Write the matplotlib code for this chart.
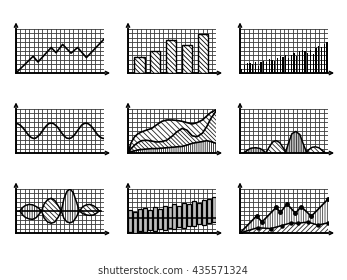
import numpy as np
import matplotlib.pyplot as plt

plt.rcParams['hatch.linewidth'] = 0.6

# panel 1 - zigzag line
line_x = [0, 3.9, 5.0, 8.0, 9.1, 10.6, 12.5, 14.0, 16.0, 20]
line_y = [0, 3.8, 2.5, 5.8, 4.6, 6.5, 4.5, 5.8, 3.5, 7.7]

# panel 2 - hatched bars
bar_x = [2.6, 6.15, 9.8, 13.35, 16.95]
bar_h = [3.7, 5.0, 7.5, 6.3, 8.9]

# panel 3 - thin bars
thin_h = [1.0, 1.8, 2.2, 2.3, 2.1, 2.4, 1.7, 2.6, 2.8, 2.5, 3.2, 2.9, 2.7, 3.5, 3.9, 3.6,
          4.2, 3.3, 4.1, 4.6, 3.8, 4.9, 5.3, 5.0, 4.6, 5.2, 4.3, 5.6, 6.1, 5.8, 6.7, 7.0]

# panel 4 - wave
wave_y = [6.7, 6.6, 6.3, 5.8, 5.2, 4.5, 3.9, 3.5, 3.3, 3.4, 3.8, 4.3, 5.0, 5.7, 6.3, 6.7,
          6.8, 6.7, 6.3, 5.8, 5.1, 4.4, 3.8, 3.4, 3.3, 3.4, 3.8, 4.4, 5.1, 5.8, 6.4, 6.7,
          6.8, 6.6, 6.2, 5.6, 4.9, 4.2, 3.7, 3.4, 3.3]

# panel 5 - stacked areas
area_x = [0, 0.7, 1.5, 2.3, 3.1, 4.2, 5.4, 6.5, 7.7, 8.8, 10.0, 11.1, 12.3, 13.4, 14.6, 15.7, 16.9, 17.9, 18.8, 20]
area_top = [0, 2.3, 3.7, 4.4, 4.8, 5.2, 5.6, 6.4, 7.2, 7.5, 7.5, 7.4, 7.2, 6.9, 6.6, 6.9, 7.5, 8.4, 9.2, 9.8]
area_mid = [0, 1.0, 1.8, 2.4, 2.8, 2.9, 2.7, 2.5, 2.6, 2.9, 3.8, 4.8, 5.6, 5.2, 3.9, 3.7, 4.5, 6.0, 7.8, 9.5]
area_low = [0, 0.3, 0.5, 0.7, 0.8, 0.9, 1.0, 1.0, 1.1, 1.2, 1.3, 1.4, 1.5, 1.8, 2.2, 2.4, 2.6, 2.8, 2.6, 2.2]

# panel 6 - humps
hump_x = [[0.8, 1.6, 2.5, 3.6, 4.6, 5.4, 5.9],
          [5.9, 6.6, 7.4, 8.2, 9.0, 9.8, 10.5],
          [10.3, 11.0, 11.8, 12.7, 13.6, 14.4, 15.2],
          [14.9, 15.7, 16.4, 17.1, 17.9, 18.7, 19.4]]
hump_y = [[0, 0.6, 1.1, 1.2, 1.0, 0.5, 0],
          [0, 1.3, 2.5, 2.8, 2.4, 1.2, 0],
          [0, 2.2, 4.4, 4.9, 4.2, 2.0, 0],
          [0, 0.8, 1.3, 1.4, 1.2, 0.6, 0]]
hump_hatch = ['|||||||', '\\' * 7, '|||||||', '\\' * 7]
hump_face = ['#d0d0d0', 'white', '#c0c0c0', 'white']

# panel 7 - lenses around a base line
lens_x = [[0.9, 1.5, 2.2, 3.0, 3.8, 4.6, 5.2, 5.8],
          [5.8, 6.4, 7.2, 8.0, 8.8, 9.6, 10.3],
          [10.3, 10.9, 11.6, 12.3, 13.0, 13.7, 14.4],
          [14.4, 15.2, 16.0, 16.8, 17.6, 18.3, 18.9]]
lens_up = [[5.0, 5.8, 6.3, 6.5, 6.4, 6.0, 5.6, 5.0],
           [5.0, 6.6, 7.6, 7.9, 7.4, 6.2, 5.0],
           [5.0, 7.8, 9.5, 10.0, 9.2, 7.2, 5.0],
           [5.0, 6.0, 6.4, 6.5, 6.2, 5.7, 5.0]]
lens_lo = [[5.0, 4.1, 3.5, 3.2, 3.1, 3.5, 4.2, 5.0],
           [5.0, 3.4, 2.5, 2.2, 2.5, 3.6, 5.0],
           [5.0, 3.3, 2.5, 2.3, 2.6, 3.6, 5.0],
           [5.0, 4.4, 4.1, 4.0, 4.1, 4.5, 5.0]]
lens_hatch = ['|||||||', '\\' * 7, '|||||||', '\\' * 7]
base_level = 5.0

# panel 8 - floating bars
float_top = [5.2, 4.8, 5.4, 5.6, 5.2, 5.8, 5.4, 6.2, 5.8, 6.6, 6.2, 6.8, 6.5, 7.2, 6.8, 7.4, 7.7, 8.2]
float_bot = [0.2, 0.0, 0.4, 0.2, 0.6, 0.4, 0.8, 0.6, 1.2, 0.9, 1.4, 1.2, 1.7, 1.5, 2.0, 1.8, 2.3, 2.5]
float_line = 3.3

# panel 9 - line with markers over two hatched areas
mk_x = [0, 3.8, 5.0, 8.2, 9.2, 10.7, 12.6, 13.9, 16.2, 20]
mk_y = [0, 3.9, 2.5, 5.8, 4.7, 6.6, 4.5, 6.0, 3.8, 7.7]
low_x = [0, 4.0, 7.0, 9.5, 11.6, 13.1, 15.4, 17.7, 20]
low_y = [0, 1.2, 1.0, 1.7, 2.3, 2.2, 2.5, 1.8, 2.3]

W, H = 347, 280
fig = plt.figure(figsize=(W / 100, H / 100), dpi=100)

lefts = [16, 128, 240]
bottoms = [73, 153, 233]


def panel(col, row):
    ax = fig.add_axes([lefts[col] / W, (H - bottoms[row]) / H, 88 / W, 44 / H])
    ax.set_xlim(0, 20)
    ax.set_ylim(0, 10)
    ax.set_xticks(range(21))
    ax.set_yticks(range(11))
    ax.tick_params(length=0, labelbottom=False, labelleft=False)
    ax.grid(True, color='#3a3a3a', lw=0.6)
    ax.set_axisbelow(True)
    for s in ['top', 'right']:
        ax.spines[s].set_visible(False)
    for s in ['left', 'bottom']:
        ax.spines[s].set_linewidth(1.2)
    ax.annotate('', xy=(0, 1.15), xytext=(0, 0), xycoords='axes fraction',
                arrowprops=dict(arrowstyle='->', lw=1.0, color='black',
                                shrinkA=0, shrinkB=0, mutation_scale=6))
    ax.annotate('', xy=(1.07, 0), xytext=(0, 0), xycoords='axes fraction',
                arrowprops=dict(arrowstyle='->', lw=1.0, color='black',
                                shrinkA=0, shrinkB=0, mutation_scale=6))
    return ax


# 1
ax = panel(0, 0)
ax.plot(line_x, line_y, color='black', lw=1.2, zorder=3)

# 2
ax = panel(1, 0)
ax.bar(bar_x, bar_h, width=2.3, color='white', edgecolor='black', lw=1.0,
       hatch='\\' * 7, zorder=3)

# 3
ax = panel(2, 0)
tx = (np.arange(len(thin_h)) + 0.6) * 20 / len(thin_h)
ax.bar(tx, thin_h, width=0.28, color='black', zorder=3)

# 4
ax = panel(0, 1)
ax.plot(np.arange(len(wave_y)) * 0.5, wave_y, color='black', lw=1.2, zorder=3)

# 5
ax = panel(1, 1)
ax.fill_between(area_x, area_mid, area_top, facecolor='white', edgecolor='#222',
                lw=0, hatch='\\' * 6, zorder=2)
ax.fill_between(area_x, area_low, area_mid, facecolor='white', edgecolor='#222',
                lw=0, hatch='\\' * 8, zorder=2)
ax.fill_between(area_x, 0, area_low, facecolor='white', edgecolor='#222',
                lw=0, hatch='|' * 8, zorder=2)
for yy in [area_top, area_mid, area_low]:
    ax.plot(area_x, yy, color='black', lw=1.2, zorder=3)

# 6
ax = panel(2, 1)
for hx, hy, hh, fc in zip(hump_x, hump_y, hump_hatch, hump_face):
    ax.fill_between(hx, 0, hy, facecolor=fc, edgecolor='#222', lw=0, hatch=hh, zorder=2)
    ax.plot(hx, hy, color='black', lw=1.1, zorder=3)

# 7
ax = panel(0, 2)
for lx, lu, ll, lh in zip(lens_x, lens_up, lens_lo, lens_hatch):
    ax.fill_between(lx, ll, lu, facecolor='white', edgecolor='#222', lw=0, hatch=lh, zorder=2)
    ax.plot(lx, lu, color='black', lw=1.1, zorder=3)
    ax.plot(lx, ll, color='black', lw=1.1, zorder=3)
ax.axhline(base_level, xmin=0, xmax=0.97, color='black', lw=1.2, zorder=4)

# 8
ax = panel(1, 2)
n = len(float_top)
fx = (np.arange(n) + 0.5) * 20 / n
ax.bar(fx, np.array(float_top) - np.array(float_bot), bottom=float_bot,
       width=20 / n * 0.8, color='#bdbdbd', edgecolor='black', lw=0.9, zorder=3)
ax.axhline(float_line, color='black', lw=1.1, zorder=4)

# 9
ax = panel(2, 2)
ax.fill_between(mk_x, 0, mk_y, facecolor='white', edgecolor='#444', lw=0,
                hatch='|' * 7, zorder=2)
ax.fill_between(low_x, 0, low_y, facecolor='white', edgecolor='#222', lw=0,
                hatch='/' * 7, zorder=2)
ax.plot(mk_x, mk_y, color='black', lw=1.2, marker='o', ms=2.5, zorder=3)
ax.plot(low_x, low_y, color='black', lw=1.1, marker='o', ms=2.2, zorder=3)

fig.text(173 / W, 1 - 271 / H, 'shutterstock.com \u00b7 435571324', ha='center', va='center',
         fontsize=7, color='#333333')

fig.savefig('out.png', dpi=100)
